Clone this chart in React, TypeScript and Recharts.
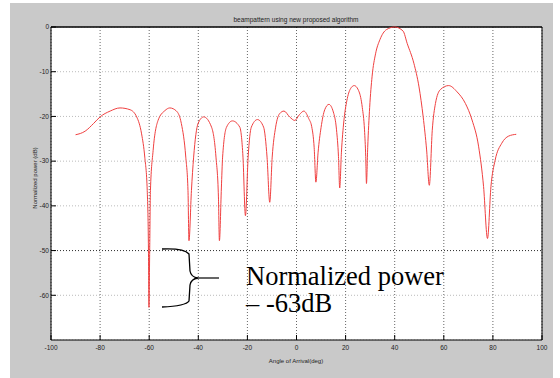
import { LineChart, Line, XAxis, YAxis, CartesianGrid, ReferenceLine } from 'recharts';

// angle of arrival (deg) and normalized power (dB)
const angles = [
  -90, -86.1, -82.7, -80, -75.9, -71.9, -67.8, -65.1, -63.1, -61.8, -60.8, -60.3, -60.1, -59.8, -59.5,
  -58.4, -56.4, -53.6, -51.6, -48.9, -46.9, -45.1, -44.2, -43.8, -42.8, -41.9, -40.1, -37.8, -34.6,
  -32.8, -31.8, -31.4, -30.6, -30.1, -28.5, -26.1, -23.1, -21.8, -20.8, -19.7, -18.4, -15.9, -13.4,
  -12.0, -10.9, -9.9, -8.5, -6.9, -5.1, -2.8, -0.7, 1.2, 3.0, 5.0, 6.2, 7.2, 7.9, 8.8, 10, 11.5, 13.2,
  15, 16.3, 17.1, 17.6, 18.3, 19.3, 20.5, 22, 23.5, 25.5, 26.8, 27.7, 28.2, 28.5, 29, 29.8, 30.8, 32.2,
  34, 36.6, 40, 43.4, 45.1, 47.8, 49.9, 51.6, 53, 54.1, 55.3, 56.6, 58.6, 62, 65.4, 68.8, 71.5, 74.2,
  76.2, 77.8, 79.2, 80.9, 83.6, 86.4, 89.5,
];
const power = [
  -24.1, -23.3, -21.6, -20.1, -18.8, -18.1, -18.5, -20.1, -23.9, -29.1, -36.6, -50, -62.7, -50, -36.6,
  -27.6, -20.9, -18.7, -18.1, -18.8, -21.6, -29.1, -36.6, -47.8, -36.6, -29.1, -21.6, -20.1, -22.4,
  -29.1, -38, -47.8, -36, -29.1, -22.4, -21.0, -22.4, -29.1, -42.2, -29.1, -22.4, -20.7, -22.4,
  -29.1, -39.2, -29.1, -22.4, -19.4, -18.8, -20.1, -20.9, -19.6, -18.8, -20.5, -22.3, -27, -34.7, -28, -22.5, -18.5, -17.3,
  -19, -23, -29, -36, -28, -21, -16.5, -13.8, -13.1, -14.5, -18, -23, -29, -35, -27, -18, -11, -6,
  -2.8, -0.6, 0, -0.9, -3.7, -8.1, -13.4, -20.1, -27.5, -35.4, -23.1, -17.1, -14, -13.1, -14.5, -17.1, -20.8, -26.8,
  -35.7, -47.3, -35.7, -29.8, -26, -24.4, -24,
];

const xTicks = [-100, -80, -60, -40, -20, 0, 20, 40, 60, 80, 100];
const yTicks = [-60, -50, -40, -30, -20, -10, 0];

const data = angles.map((a, i) => ({ angle: a, power: power[i] }));

const tickStyle = { fontSize: 6.5, fill: '#222', fontFamily: 'Liberation Sans, Arial, sans-serif' };

export default function App() {
  return (
    <div style={{ position: 'absolute', left: 0, top: 0, width: 560, height: 378, background: '#fff' }}>
      <div style={{ position: 'absolute', left: 10, top: 3, width: 543, height: 375, background: '#c9c9c9' }} />
      <div style={{ position: 'absolute', left: 0, top: 0 }}>
        <LineChart width={560} height={378} data={data} margin={{ top: 27, right: 18, bottom: 8, left: 21 }}>
          <CartesianGrid fill="#fff" stroke="#666" strokeDasharray="1 2" horizontal={false} />
          <CartesianGrid stroke="#bbb" strokeDasharray="1 2" vertical={false} />
          <ReferenceLine y={-50} stroke="#333" strokeDasharray="1 2" />
          <ReferenceLine y={0} stroke="#000" strokeWidth={1.5} />
          <ReferenceLine x={100} stroke="#000" />
          <XAxis
            dataKey="angle"
            type="number"
            domain={[-100, 100]}
            ticks={xTicks}
            interval={0}
            height={30}
            tickSize={-5}
            tickMargin={10}
            stroke="#000"
            tick={tickStyle}
          />
          <YAxis
            type="number"
            domain={[-70, 0]}
            ticks={yTicks}
            interval={0}
            width={30}
            tickSize={-5}
            tickMargin={7}
            stroke="#000"
            tick={tickStyle}
          />
          <Line
            type="monotone"
            dataKey="power"
            stroke="#f04040"
            strokeWidth={1}
            dot={false}
            isAnimationActive={false}
          />
        </LineChart>
      </div>
      <svg
        width={560}
        height={378}
        style={{ position: 'absolute', left: 0, top: 0, pointerEvents: 'none' }}
      >
        <text x={296} y={22} textAnchor="middle" fontSize={6.5} fill="#222" fontFamily="Liberation Sans, Arial, sans-serif">
          beampattern using new proposed algorithm
        </text>
        <text x={296} y={363} textAnchor="middle" fontSize={6} fill="#222" fontFamily="Liberation Sans, Arial, sans-serif">
          Angle of Arrival(deg)
        </text>
        <text
          x={35}
          y={178}
          textAnchor="middle"
          fontSize={6}
          fill="#222"
          fontFamily="Liberation Sans, Arial, sans-serif"
          transform="rotate(-90 35 178)"
          dominantBaseline="middle"
        >
          Normalized power (dB)
        </text>
        <path
          d="M162,249 Q184,248 189,254 L190,271 Q191,277 198,278 Q191,279 190,285 L189,301 Q186,306 162,307"
          fill="none"
          stroke="#000"
          strokeWidth={1.3}
        />
        <path d="M198,278 L219,278" stroke="#000" strokeWidth={1.2} />
        <text x={246} y={285} fontSize={26.5} fill="#000" fontFamily="Liberation Serif, Times New Roman, serif">
          Normalized power
        </text>
        <text x={246} y={312} fontSize={26.5} fill="#000" fontFamily="Liberation Serif, Times New Roman, serif">
          – -63dB
        </text>
      </svg>
    </div>
  );
}
